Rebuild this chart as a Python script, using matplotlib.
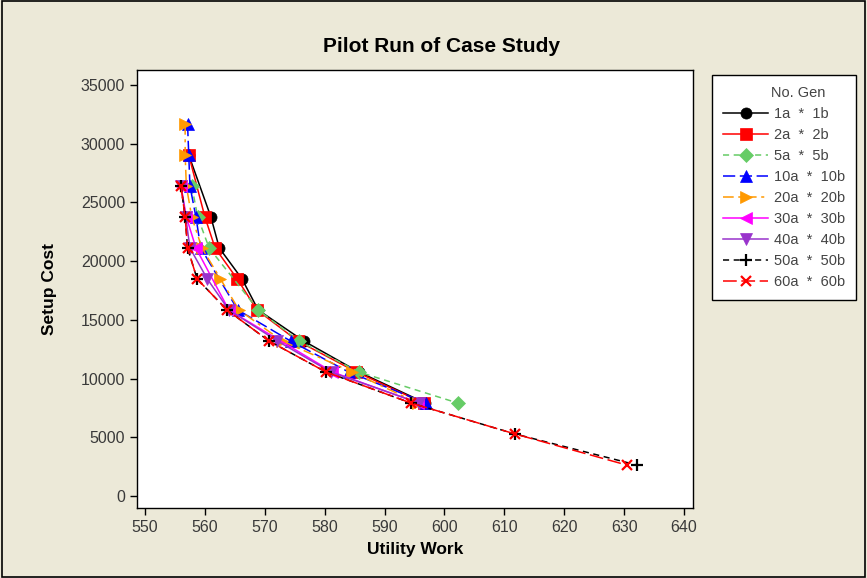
import matplotlib
matplotlib.use("Agg")
import matplotlib.pyplot as plt
from matplotlib.patches import Rectangle

plt.rcParams['font.family'] = ['Liberation Sans', 'DejaVu Sans']

# Setup cost values (y) and utility work values (x) for each generation setting
labels = ["1a  *  1b", "2a  *  2b", "5a  *  5b", "10a  *  10b", "20a  *  20b",
          "30a  *  30b", "40a  *  40b", "50a  *  50b", "60a  *  60b"]

cost_1 = [29040, 23760, 21120, 18480, 15840, 13200, 10560, 7920]
work_1 = [557.3, 561.0, 562.4, 566.2, 568.9, 576.5, 585.7, 596.8]

cost_2 = [29040, 23760, 21120, 18480, 15840, 13200, 10560, 7920]
work_2 = [557.3, 560.0, 561.7, 565.4, 568.7, 575.5, 585.3, 596.5]

cost_5 = [26400, 23760, 21120, 15840, 13200, 10560, 7920]
work_5 = [557.8, 558.8, 560.7, 568.9, 575.7, 585.7, 602.2]

cost_10 = [31680, 29040, 26400, 23760, 21120, 15840, 13200, 10560, 7920]
work_10 = [557.1, 557.3, 557.5, 558.5, 559.3, 565.5, 574.3, 584.0, 596.9]

cost_20 = [31680, 29040, 26400, 23760, 21120, 18480, 15840, 13200, 10560, 7920]
work_20 = [556.7, 556.7, 556.9, 557.8, 559.5, 562.6, 565.7, 572.9, 584.6, 595.5]

cost_30 = [26400, 23760, 21120, 15840, 10560, 7920]
work_30 = [556.0, 556.9, 558.5, 564.0, 581.3, 595.6]

cost_40 = [26400, 23760, 21120, 18480, 15840, 13200, 10560, 7920]
work_40 = [556.0, 556.8, 557.5, 560.4, 564.0, 572.1, 581.0, 595.8]

cost_50 = [26400, 23760, 21120, 18480, 15840, 13200, 10560, 7920, 5280, 2640]
work_50 = [556.0, 556.7, 557.1, 558.7, 563.7, 570.7, 580.2, 594.4, 611.8, 632.1]

cost_60 = [26400, 23760, 21120, 18480, 15840, 13200, 10560, 7920, 5280, 2640]
work_60 = [556.0, 556.7, 557.1, 558.7, 563.7, 570.7, 580.2, 594.4, 611.8, 630.4]

x_ticks = [550, 560, 570, 580, 590, 600, 610, 620, 630, 640]
y_ticks = [0, 5000, 10000, 15000, 20000, 25000, 30000, 35000]

series = [
    (work_1, cost_1, "black", "-", "o", 8),
    (work_2, cost_2, "#FF0000", "-", "s", 8),
    (work_5, cost_5, "#66CC66", (0, (4, 3)), "D", 7.5),
    (work_10, cost_10, "#0000FF", (0, (8, 3)), "^", 8.5),
    (work_20, cost_20, "#FF9900", (0, (7, 3, 2, 3)), ">", 8.5),
    (work_30, cost_30, "#FF00FF", "-", "<", 8.5),
    (work_40, cost_40, "#9933CC", "-", "v", 8.5),
    (work_50, cost_50, "black", (0, (4, 3)), "+", 9),
    (work_60, cost_60, "#FF0000", (0, (9, 3)), "x", 7.5),
]

bg = "#ECE9D8"
fig = plt.figure(figsize=(8.67, 5.78), dpi=100, facecolor=bg)
fig.patches.append(Rectangle((0.002, 0.002), 0.996, 0.996, transform=fig.transFigure,
                             fill=False, edgecolor="black", linewidth=1.2))

ax = fig.add_axes([137 / 867, 1 - 508 / 578, (693 - 137) / 867, (508 - 70) / 578])
ax.set_facecolor("white")

handles = []
for (xs, ys, c, ls, m, ms), lab in zip(series, labels):
    mew = 1.6 if m in ("+", "x") else 0.5
    h, = ax.plot(xs, ys, color=c, linestyle=ls, linewidth=1.1, marker=m,
                 markersize=ms, markerfacecolor=c, markeredgecolor=c,
                 markeredgewidth=mew, label=lab)
    handles.append(h)

ax.set_xlim(548.66, 641.5)
ax.set_ylim(-1022, 36277)
ax.set_xticks(x_ticks)
ax.set_yticks(y_ticks)
ax.tick_params(direction="out", length=5, width=1, labelsize=11.5,
               labelcolor="#3a3a3a", color="black")
for s in ax.spines.values():
    s.set_linewidth(1.0)

ax.set_xlabel("Utility Work", fontsize=12.5, fontweight="bold", labelpad=5)
ax.set_ylabel("Setup Cost", fontsize=12.5, fontweight="bold", labelpad=17)
fig.text(442 / 867, 1 - 47 / 578, "Pilot Run of Case Study", fontsize=15,
         fontweight="bold", ha="center", va="center")

leg = fig.legend(handles=handles, labels=labels, title="       No. Gen",
                 loc="upper left", bbox_to_anchor=(712 / 867, 1 - 75 / 578),
                 fontsize=10.5, title_fontsize=10.5, handlelength=3.1,
                 labelspacing=0.48, borderpad=0.75, handletextpad=0.4,
                 fancybox=False, framealpha=1, edgecolor="black",
                 borderaxespad=0)
leg.get_frame().set_linewidth(1.0)
for t in leg.get_texts():
    t.set_color("#444444")
leg.get_title().set_color("#444444")

fig.savefig("out.png", dpi=100, facecolor=bg)
